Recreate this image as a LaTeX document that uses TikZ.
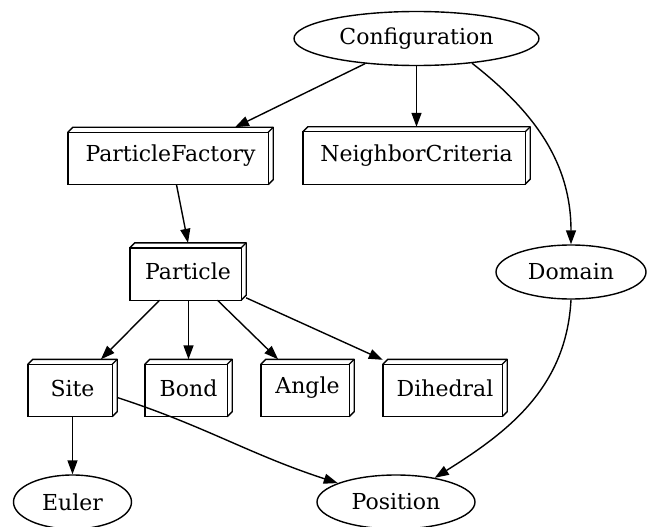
\documentclass[tikz,border=0pt]{standalone}
\usepackage{fontspec}
\setmainfont{DejaVu Serif}
\usetikzlibrary{shapes.geometric,arrows.meta}
\begin{document}
\begin{tikzpicture}[x=1pt,y=-1pt,
		every node/.style={font=\fontsize{22}{24}\selectfont},
		oval/.style={ellipse, draw, line width=1.4pt, inner sep=0, minimum height=54},
		cube/.style={rectangle, inner sep=0, minimum height=57},
		arr/.style={-{Triangle[length=14pt,width=10pt]}, line width=1.4pt}
	]
		\clip (0,0) rectangle (649,527);
		\node [oval, minimum width=245] (conf) at (416.5,38.5) {Configuration};
		\node [oval, minimum width=150] (dom)  at (571,272)    {Domain};
		\node [oval, minimum width=118] (euler) at (72.5,502)  {Euler};
		\node [oval, minimum width=158] (pos)  at (396,502)    {Position};
		\node [cube, minimum width=205] (pf)   at (170.5,156)  {ParticleFactory};
		\node [cube, minimum width=227] (nc)   at (416.5,155.5) {NeighborCriteria};
		\node [cube, minimum width=116] (part) at (188,271.5)  {Particle};
		\node [cube, minimum width=89]  (site) at (72.5,388)   {Site};
		\node [cube, minimum width=87]  (bond) at (188.5,388)  {Bond};
		\node [cube, minimum width=93]  (angle) at (307.5,388) {Angle};
		\node [cube, minimum width=124] (dih)  at (445,388)    {Dihedral};
		\foreach \n in {pf, nc, part, site, bond, angle, dih} {
			\draw [line width=1.4pt] ([yshift=-5pt]\n.north west) rectangle ([xshift=-5pt]\n.south east);
			\draw [line width=1.4pt, line join=round] ([yshift=-5pt]\n.north west) -- ([xshift=5pt]\n.north west) -- (\n.north east)
				-- ([yshift=5pt]\n.south east) -- ([xshift=-5pt]\n.south east);
			\draw [line width=1.4pt] ([shift={(-5pt,-5pt)}]\n.north east) -- (\n.north east);
		}
		\draw [arr] (conf) -- (pf.north -| 235,0);
		\draw [arr] (conf.south -| nc.north) -- (nc.north);
		\draw [arr] (conf.-24) to [out=-38, in=90] (dom.north);
		\draw [arr] (pf.south) ++(6,0) -- (part.north);
		\draw [arr] (part) -- (site);
		\draw [arr] (part.south -| bond.north) -- (bond.north);
		\draw [arr] (part) -- (angle);
		\draw [arr] (part) -- (dih);
		\draw [arr] (site) -- (euler);
		\draw [arr] (site.-12) to [out=-18, in=162] (pos.162);
		\draw [arr] (dom.south) to [out=-93, in=32] (pos.32);
	\end{tikzpicture}
\end{document}
